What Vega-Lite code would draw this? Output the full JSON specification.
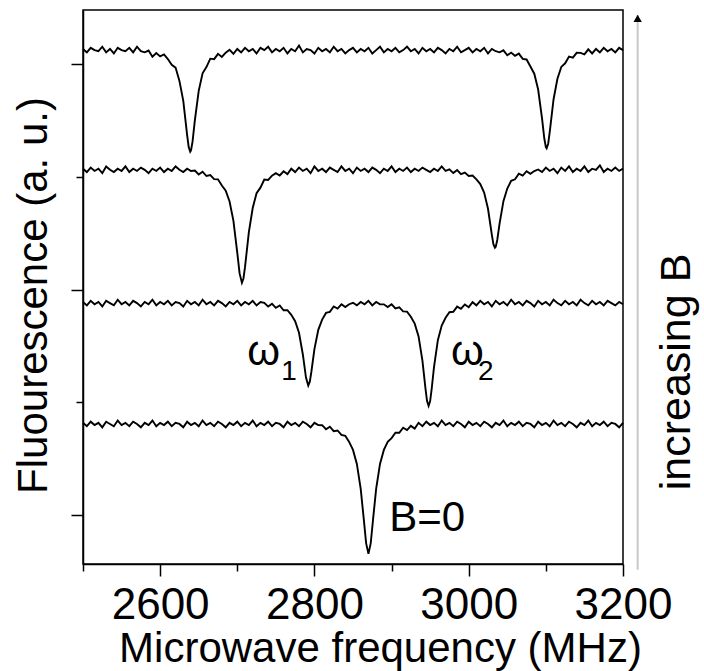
{
  "$schema": "https://vega.github.io/schema/vega-lite/v6.json",
  "width": 540,
  "height": 554,
  "autosize": {"type": "none"},
  "padding": {"left": 83, "top": 10, "right": 81, "bottom": 107},
  "background": "white",
  "config": {
    "font": "Liberation Sans",
    "view": {"stroke": "black", "strokeWidth": 1.5},
    "axis": {
      "grid": false,
      "domainColor": "black",
      "domainWidth": 1.5,
      "tickColor": "black",
      "tickWidth": 1.5,
      "labelColor": "black",
      "labelFont": "Liberation Sans",
      "titleFont": "Liberation Sans",
      "titleColor": "black",
      "titleFontWeight": "normal"
    }
  },
  "datasets": {
    "traces": [
      {"s":1,"f":2500,"v":413},{"s":1,"f":2505,"v":410},{"s":1,"f":2510,"v":414},{"s":1,"f":2515,"v":412},{"s":1,"f":2520,"v":411},{"s":1,"f":2525,"v":415},{"s":1,"f":2530,"v":410},{"s":1,"f":2535,"v":413},{"s":1,"f":2540,"v":409},{"s":1,"f":2545,"v":414},{"s":1,"f":2550,"v":412},{"s":1,"f":2555,"v":411},{"s":1,"f":2560,"v":414},{"s":1,"f":2565,"v":410},{"s":1,"f":2570,"v":415},{"s":1,"f":2575,"v":411},
      {"s":1,"f":2580,"v":410},{"s":1,"f":2585,"v":411.6},{"s":1,"f":2590,"v":406.1},{"s":1,"f":2595,"v":409.4},{"s":1,"f":2600,"v":406.4},{"s":1,"f":2605,"v":408.1},{"s":1,"f":2610,"v":404.1},{"s":1,"f":2615,"v":398.9},{"s":1,"f":2620,"v":396.5},{"s":1,"f":2625,"v":384.7},{"s":1,"f":2630,"v":367},{"s":1,"f":2635,"v":336.8},{"s":1,"f":2637,"v":326.2},{"s":1,"f":2639,"v":322},{"s":1,"f":2640,"v":323.1},{"s":1,"f":2642,"v":331},{"s":1,"f":2645,"v":349.7},{"s":1,"f":2650,"v":375.9},{"s":1,"f":2655,"v":391.4},{"s":1,"f":2660,"v":397},{"s":1,"f":2665,"v":404.4},{"s":1,"f":2670,"v":404},{"s":1,"f":2675,"v":408.7},{"s":1,"f":2680,"v":405.9},{"s":1,"f":2685,"v":409.7},{"s":1,"f":2690,"v":412.3},{"s":1,"f":2695,"v":408.7},
      {"s":1,"f":2700,"v":413},{"s":1,"f":2705,"v":410},{"s":1,"f":2710,"v":414},{"s":1,"f":2715,"v":411},{"s":1,"f":2720,"v":413},{"s":1,"f":2725,"v":409},{"s":1,"f":2730,"v":414},{"s":1,"f":2735,"v":412},{"s":1,"f":2740,"v":415},{"s":1,"f":2745,"v":410},{"s":1,"f":2750,"v":413},{"s":1,"f":2755,"v":411},{"s":1,"f":2760,"v":414},{"s":1,"f":2765,"v":409},{"s":1,"f":2770,"v":413},{"s":1,"f":2775,"v":411},{"s":1,"f":2780,"v":416},{"s":1,"f":2785,"v":410},{"s":1,"f":2790,"v":413},{"s":1,"f":2795,"v":412},{"s":1,"f":2800,"v":409},{"s":1,"f":2805,"v":414},{"s":1,"f":2810,"v":411},{"s":1,"f":2815,"v":413},{"s":1,"f":2820,"v":410},{"s":1,"f":2825,"v":415},{"s":1,"f":2830,"v":411},{"s":1,"f":2835,"v":413},{"s":1,"f":2840,"v":409},{"s":1,"f":2845,"v":412},{"s":1,"f":2850,"v":414},{"s":1,"f":2855,"v":410},{"s":1,"f":2860,"v":413},{"s":1,"f":2865,"v":411},{"s":1,"f":2870,"v":414},{"s":1,"f":2875,"v":409},{"s":1,"f":2880,"v":412},{"s":1,"f":2885,"v":415},{"s":1,"f":2890,"v":410},{"s":1,"f":2895,"v":413},{"s":1,"f":2900,"v":411},{"s":1,"f":2905,"v":414},{"s":1,"f":2910,"v":410},{"s":1,"f":2915,"v":412},{"s":1,"f":2920,"v":415},{"s":1,"f":2925,"v":411},{"s":1,"f":2930,"v":413},{"s":1,"f":2935,"v":409},{"s":1,"f":2940,"v":414},{"s":1,"f":2945,"v":411},{"s":1,"f":2950,"v":413},{"s":1,"f":2955,"v":410},{"s":1,"f":2960,"v":414},{"s":1,"f":2965,"v":412},{"s":1,"f":2970,"v":409},{"s":1,"f":2975,"v":413},{"s":1,"f":2980,"v":411},{"s":1,"f":2985,"v":415},{"s":1,"f":2990,"v":410},{"s":1,"f":2995,"v":412},{"s":1,"f":3000,"v":414},{"s":1,"f":3005,"v":410},{"s":1,"f":3010,"v":413},{"s":1,"f":3015,"v":411},{"s":1,"f":3020,"v":414},{"s":1,"f":3025,"v":409},{"s":1,"f":3030,"v":413},{"s":1,"f":3035,"v":411},{"s":1,"f":3040,"v":410},
      {"s":1,"f":3045,"v":411.8},{"s":1,"f":3050,"v":407.4},{"s":1,"f":3055,"v":409.8},{"s":1,"f":3060,"v":407},{"s":1,"f":3065,"v":408.9},{"s":1,"f":3070,"v":404.2},{"s":1,"f":3075,"v":403.7},{"s":1,"f":3080,"v":397.5},{"s":1,"f":3085,"v":391.1},{"s":1,"f":3090,"v":377.1},{"s":1,"f":3095,"v":351.8},{"s":1,"f":3098,"v":333.7},{"s":1,"f":3100,"v":326},{"s":1,"f":3101,"v":325},{"s":1,"f":3103,"v":329.1},{"s":1,"f":3105,"v":339.4},{"s":1,"f":3110,"v":368.5},{"s":1,"f":3115,"v":386.6},{"s":1,"f":3120,"v":397.1},{"s":1,"f":3125,"v":400.3},{"s":1,"f":3130,"v":406.3},{"s":1,"f":3135,"v":405.3},{"s":1,"f":3140,"v":409.6},{"s":1,"f":3145,"v":409.5},{"s":1,"f":3150,"v":408.2},{"s":1,"f":3155,"v":412.7},{"s":1,"f":3160,"v":409},
      {"s":1,"f":3165,"v":413},{"s":1,"f":3170,"v":410},{"s":1,"f":3175,"v":414},{"s":1,"f":3180,"v":411},{"s":1,"f":3185,"v":413},{"s":1,"f":3190,"v":410},{"s":1,"f":3195,"v":414},{"s":1,"f":3200,"v":412},

      {"s":2,"f":2500,"v":307},{"s":2,"f":2505,"v":304},{"s":2,"f":2510,"v":308},{"s":2,"f":2515,"v":305},{"s":2,"f":2520,"v":307},{"s":2,"f":2525,"v":303},{"s":2,"f":2530,"v":309},{"s":2,"f":2535,"v":306},{"s":2,"f":2540,"v":304},{"s":2,"f":2545,"v":307},{"s":2,"f":2550,"v":305},{"s":2,"f":2555,"v":309},{"s":2,"f":2560,"v":304},{"s":2,"f":2565,"v":307},{"s":2,"f":2570,"v":305},{"s":2,"f":2575,"v":308},{"s":2,"f":2580,"v":306},{"s":2,"f":2585,"v":303},{"s":2,"f":2590,"v":307},{"s":2,"f":2595,"v":305},{"s":2,"f":2600,"v":308},{"s":2,"f":2605,"v":304},{"s":2,"f":2610,"v":307},{"s":2,"f":2615,"v":305},{"s":2,"f":2620,"v":309},{"s":2,"f":2625,"v":306},{"s":2,"f":2630,"v":304},{"s":2,"f":2635,"v":307},{"s":2,"f":2640,"v":305},
      {"s":2,"f":2645,"v":305.4},{"s":2,"f":2650,"v":301.9},{"s":2,"f":2655,"v":304.3},{"s":2,"f":2660,"v":300.5},{"s":2,"f":2665,"v":301.4},{"s":2,"f":2670,"v":297.8},{"s":2,"f":2675,"v":297.6},{"s":2,"f":2680,"v":292.1},{"s":2,"f":2685,"v":287.5},{"s":2,"f":2690,"v":277.9},{"s":2,"f":2695,"v":260.8},{"s":2,"f":2700,"v":232.5},{"s":2,"f":2703,"v":214.3},{"s":2,"f":2706,"v":206},{"s":2,"f":2708,"v":209.8},{"s":2,"f":2710,"v":219.8},{"s":2,"f":2715,"v":250.8},{"s":2,"f":2720,"v":272.2},{"s":2,"f":2725,"v":285.3},{"s":2,"f":2730,"v":290.2},{"s":2,"f":2735,"v":297.4},{"s":2,"f":2740,"v":297},{"s":2,"f":2745,"v":300.8},{"s":2,"f":2750,"v":303.1},{"s":2,"f":2755,"v":301},{"s":2,"f":2760,"v":304.7},{"s":2,"f":2765,"v":302.2},
      {"s":2,"f":2770,"v":307},{"s":2,"f":2775,"v":304},{"s":2,"f":2780,"v":308},{"s":2,"f":2785,"v":305},{"s":2,"f":2790,"v":307},{"s":2,"f":2795,"v":303},{"s":2,"f":2800,"v":309},{"s":2,"f":2805,"v":305},{"s":2,"f":2810,"v":307},{"s":2,"f":2815,"v":304},{"s":2,"f":2820,"v":308},{"s":2,"f":2825,"v":306},{"s":2,"f":2830,"v":304},{"s":2,"f":2835,"v":309},{"s":2,"f":2840,"v":305},{"s":2,"f":2845,"v":307},{"s":2,"f":2850,"v":303},{"s":2,"f":2855,"v":308},{"s":2,"f":2860,"v":305},{"s":2,"f":2865,"v":307},{"s":2,"f":2870,"v":304},{"s":2,"f":2875,"v":308},{"s":2,"f":2880,"v":306},{"s":2,"f":2885,"v":303},{"s":2,"f":2890,"v":307},{"s":2,"f":2895,"v":305},{"s":2,"f":2900,"v":309},{"s":2,"f":2905,"v":304},{"s":2,"f":2910,"v":307},{"s":2,"f":2915,"v":305},{"s":2,"f":2920,"v":308},{"s":2,"f":2925,"v":304},{"s":2,"f":2930,"v":307},{"s":2,"f":2935,"v":305},{"s":2,"f":2940,"v":308},{"s":2,"f":2945,"v":306},{"s":2,"f":2950,"v":304},{"s":2,"f":2955,"v":307},{"s":2,"f":2960,"v":305},{"s":2,"f":2965,"v":309},{"s":2,"f":2970,"v":305},
      {"s":2,"f":2975,"v":306.4},{"s":2,"f":2980,"v":303.1},{"s":2,"f":2985,"v":305.8},{"s":2,"f":2990,"v":302.2},{"s":2,"f":2995,"v":303.5},{"s":2,"f":3000,"v":300.5},{"s":2,"f":3005,"v":300.9},{"s":2,"f":3010,"v":297.5},{"s":2,"f":3015,"v":293.4},{"s":2,"f":3020,"v":285.9},{"s":2,"f":3025,"v":271.5},{"s":2,"f":3030,"v":248.4},{"s":2,"f":3032,"v":240.2},{"s":2,"f":3034,"v":237},{"s":2,"f":3035,"v":237.8},{"s":2,"f":3037,"v":243.9},{"s":2,"f":3040,"v":258.3},{"s":2,"f":3045,"v":278.3},{"s":2,"f":3050,"v":289.4},{"s":2,"f":3055,"v":296.3},{"s":2,"f":3060,"v":297.6},{"s":2,"f":3065,"v":302.6},{"s":2,"f":3070,"v":300.9},{"s":2,"f":3075,"v":304.8},{"s":2,"f":3080,"v":302.4},{"s":2,"f":3085,"v":304.9},{"s":2,"f":3090,"v":306.3},
      {"s":2,"f":3095,"v":304},{"s":2,"f":3100,"v":308},{"s":2,"f":3105,"v":305},{"s":2,"f":3110,"v":307},{"s":2,"f":3115,"v":303},{"s":2,"f":3120,"v":308},{"s":2,"f":3125,"v":305},{"s":2,"f":3130,"v":309},{"s":2,"f":3135,"v":304},{"s":2,"f":3140,"v":307},{"s":2,"f":3145,"v":305},{"s":2,"f":3150,"v":309},{"s":2,"f":3155,"v":304},{"s":2,"f":3160,"v":307},{"s":2,"f":3165,"v":306},{"s":2,"f":3170,"v":310},{"s":2,"f":3175,"v":304},{"s":2,"f":3180,"v":307},{"s":2,"f":3185,"v":305},{"s":2,"f":3190,"v":308},{"s":2,"f":3195,"v":305},{"s":2,"f":3200,"v":307},

      {"s":3,"f":2500,"v":189},{"s":3,"f":2505,"v":186},{"s":3,"f":2510,"v":190},{"s":3,"f":2515,"v":187},{"s":3,"f":2520,"v":189},{"s":3,"f":2525,"v":185},{"s":3,"f":2530,"v":190},{"s":3,"f":2535,"v":188},{"s":3,"f":2540,"v":186},{"s":3,"f":2545,"v":191},{"s":3,"f":2550,"v":187},{"s":3,"f":2555,"v":189},{"s":3,"f":2560,"v":186},{"s":3,"f":2565,"v":190},{"s":3,"f":2570,"v":188},{"s":3,"f":2575,"v":185},{"s":3,"f":2580,"v":189},{"s":3,"f":2585,"v":187},{"s":3,"f":2590,"v":191},{"s":3,"f":2595,"v":186},{"s":3,"f":2600,"v":189},{"s":3,"f":2605,"v":187},{"s":3,"f":2610,"v":190},{"s":3,"f":2615,"v":186},{"s":3,"f":2620,"v":189},{"s":3,"f":2625,"v":188},{"s":3,"f":2630,"v":185},{"s":3,"f":2635,"v":190},{"s":3,"f":2640,"v":187},{"s":3,"f":2645,"v":189},{"s":3,"f":2650,"v":186},{"s":3,"f":2655,"v":191},{"s":3,"f":2660,"v":187},{"s":3,"f":2665,"v":189},{"s":3,"f":2670,"v":186},{"s":3,"f":2675,"v":190},{"s":3,"f":2680,"v":188},{"s":3,"f":2685,"v":185},{"s":3,"f":2690,"v":189},{"s":3,"f":2695,"v":187},{"s":3,"f":2700,"v":190},{"s":3,"f":2705,"v":186},{"s":3,"f":2710,"v":189},{"s":3,"f":2715,"v":187},{"s":3,"f":2720,"v":190},{"s":3,"f":2725,"v":186},{"s":3,"f":2730,"v":189},
      {"s":3,"f":2735,"v":188.2},{"s":3,"f":2740,"v":184.9},{"s":3,"f":2745,"v":187.4},{"s":3,"f":2750,"v":183.8},{"s":3,"f":2755,"v":185.9},{"s":3,"f":2760,"v":181.6},{"s":3,"f":2765,"v":181.7},{"s":3,"f":2770,"v":177.6},{"s":3,"f":2775,"v":172},{"s":3,"f":2780,"v":161.7},{"s":3,"f":2785,"v":142.5},{"s":3,"f":2789,"v":122.3},{"s":3,"f":2792,"v":115},{"s":3,"f":2794,"v":118.4},{"s":3,"f":2796,"v":127},{"s":3,"f":2800,"v":147.2},{"s":3,"f":2805,"v":164.3},{"s":3,"f":2810,"v":173.4},{"s":3,"f":2815,"v":179.3},{"s":3,"f":2820,"v":180.2},{"s":3,"f":2825,"v":185},{"s":3,"f":2830,"v":183.1},{"s":3,"f":2835,"v":186.9},{"s":3,"f":2840,"v":184.5},{"s":3,"f":2845,"v":187},{"s":3,"f":2850,"v":188.3},
      {"s":3,"f":2855,"v":186},{"s":3,"f":2860,"v":189},{"s":3,"f":2865,"v":187},{"s":3,"f":2870,"v":190},{"s":3,"f":2875,"v":186},{"s":3,"f":2880,"v":189},{"s":3,"f":2885,"v":187},
      {"s":3,"f":2890,"v":186.9},{"s":3,"f":2895,"v":184.5},{"s":3,"f":2900,"v":186.9},{"s":3,"f":2905,"v":183.2},{"s":3,"f":2910,"v":184.2},{"s":3,"f":2915,"v":180.7},{"s":3,"f":2920,"v":180.5},{"s":3,"f":2925,"v":175.9},{"s":3,"f":2930,"v":169.8},{"s":3,"f":2935,"v":158.5},{"s":3,"f":2940,"v":137.1},{"s":3,"f":2944,"v":112},{"s":3,"f":2946,"v":101.3},{"s":3,"f":2948,"v":97},{"s":3,"f":2950,"v":101.3},{"s":3,"f":2952,"v":112},{"s":3,"f":2955,"v":131.3},{"s":3,"f":2960,"v":155.2},{"s":3,"f":2965,"v":168.1},{"s":3,"f":2970,"v":175},{"s":3,"f":2975,"v":179.9},{"s":3,"f":2980,"v":180.3},{"s":3,"f":2985,"v":184.9},{"s":3,"f":2990,"v":183},{"s":3,"f":2995,"v":186.8},{"s":3,"f":3000,"v":184.4},{"s":3,"f":3005,"v":188.8},
      {"s":3,"f":3010,"v":186},{"s":3,"f":3015,"v":190},{"s":3,"f":3020,"v":187},{"s":3,"f":3025,"v":189},{"s":3,"f":3030,"v":185},{"s":3,"f":3035,"v":190},{"s":3,"f":3040,"v":187},{"s":3,"f":3045,"v":189},{"s":3,"f":3050,"v":186},{"s":3,"f":3055,"v":191},{"s":3,"f":3060,"v":187},{"s":3,"f":3065,"v":189},{"s":3,"f":3070,"v":186},{"s":3,"f":3075,"v":190},{"s":3,"f":3080,"v":188},{"s":3,"f":3085,"v":185},{"s":3,"f":3090,"v":190},{"s":3,"f":3095,"v":187},{"s":3,"f":3100,"v":189},{"s":3,"f":3105,"v":186},{"s":3,"f":3110,"v":191},{"s":3,"f":3115,"v":188},{"s":3,"f":3120,"v":186},{"s":3,"f":3125,"v":190},{"s":3,"f":3130,"v":187},{"s":3,"f":3135,"v":189},{"s":3,"f":3140,"v":186},{"s":3,"f":3145,"v":191},{"s":3,"f":3150,"v":188},{"s":3,"f":3155,"v":186},{"s":3,"f":3160,"v":190},{"s":3,"f":3165,"v":187},{"s":3,"f":3170,"v":189},{"s":3,"f":3175,"v":186},{"s":3,"f":3180,"v":190},{"s":3,"f":3185,"v":188},{"s":3,"f":3190,"v":186},{"s":3,"f":3195,"v":189},{"s":3,"f":3200,"v":187},

      {"s":4,"f":2500,"v":82},{"s":4,"f":2505,"v":79},{"s":4,"f":2510,"v":83},{"s":4,"f":2515,"v":80},{"s":4,"f":2520,"v":82},{"s":4,"f":2525,"v":78},{"s":4,"f":2530,"v":83},{"s":4,"f":2535,"v":81},{"s":4,"f":2540,"v":79},{"s":4,"f":2545,"v":84},{"s":4,"f":2550,"v":80},{"s":4,"f":2555,"v":82},{"s":4,"f":2560,"v":79},{"s":4,"f":2565,"v":83},{"s":4,"f":2570,"v":81},{"s":4,"f":2575,"v":78},{"s":4,"f":2580,"v":82},{"s":4,"f":2585,"v":80},{"s":4,"f":2590,"v":84},{"s":4,"f":2595,"v":79},{"s":4,"f":2600,"v":82},{"s":4,"f":2605,"v":80},{"s":4,"f":2610,"v":83},{"s":4,"f":2615,"v":79},{"s":4,"f":2620,"v":82},{"s":4,"f":2625,"v":81},{"s":4,"f":2630,"v":78},{"s":4,"f":2635,"v":83},{"s":4,"f":2640,"v":80},{"s":4,"f":2645,"v":82},{"s":4,"f":2650,"v":79},{"s":4,"f":2655,"v":84},{"s":4,"f":2660,"v":80},{"s":4,"f":2665,"v":82},{"s":4,"f":2670,"v":79},{"s":4,"f":2675,"v":83},{"s":4,"f":2680,"v":81},{"s":4,"f":2685,"v":78},{"s":4,"f":2690,"v":82},{"s":4,"f":2695,"v":80},{"s":4,"f":2700,"v":83},{"s":4,"f":2705,"v":79},{"s":4,"f":2710,"v":82},{"s":4,"f":2715,"v":80},{"s":4,"f":2720,"v":84},{"s":4,"f":2725,"v":79},{"s":4,"f":2730,"v":82},{"s":4,"f":2735,"v":80},{"s":4,"f":2740,"v":83},{"s":4,"f":2745,"v":79},{"s":4,"f":2750,"v":82},{"s":4,"f":2755,"v":81},{"s":4,"f":2760,"v":78},{"s":4,"f":2765,"v":83},{"s":4,"f":2770,"v":80},{"s":4,"f":2775,"v":82},{"s":4,"f":2780,"v":79},{"s":4,"f":2785,"v":83},{"s":4,"f":2790,"v":81},{"s":4,"f":2795,"v":78},{"s":4,"f":2800,"v":82},{"s":4,"f":2805,"v":80},
      {"s":4,"f":2810,"v":79.9},{"s":4,"f":2815,"v":76.3},{"s":4,"f":2820,"v":78.6},{"s":4,"f":2825,"v":74.6},{"s":4,"f":2830,"v":75.2},{"s":4,"f":2835,"v":71.3},{"s":4,"f":2840,"v":70.5},{"s":4,"f":2845,"v":65.1},{"s":4,"f":2850,"v":58},{"s":4,"f":2855,"v":45.6},{"s":4,"f":2860,"v":23.5},{"s":4,"f":2864,"v":-3.5},{"s":4,"f":2867,"v":-24.5},{"s":4,"f":2870,"v":-34},{"s":4,"f":2873,"v":-24.5},{"s":4,"f":2876,"v":-3.5},{"s":4,"f":2880,"v":23.5},{"s":4,"f":2885,"v":45.6},{"s":4,"f":2890,"v":58},{"s":4,"f":2895,"v":65.1},{"s":4,"f":2900,"v":68.5},{"s":4,"f":2905,"v":73.3},{"s":4,"f":2910,"v":73.2},{"s":4,"f":2915,"v":77.6},{"s":4,"f":2920,"v":75.6},{"s":4,"f":2925,"v":79.3},{"s":4,"f":2930,"v":76.9},
      {"s":4,"f":2935,"v":82},{"s":4,"f":2940,"v":79},{"s":4,"f":2945,"v":83},{"s":4,"f":2950,"v":80},{"s":4,"f":2955,"v":82},{"s":4,"f":2960,"v":79},{"s":4,"f":2965,"v":84},{"s":4,"f":2970,"v":80},{"s":4,"f":2975,"v":82},{"s":4,"f":2980,"v":79},{"s":4,"f":2985,"v":83},{"s":4,"f":2990,"v":81},{"s":4,"f":2995,"v":78},{"s":4,"f":3000,"v":83},{"s":4,"f":3005,"v":80},{"s":4,"f":3010,"v":82},{"s":4,"f":3015,"v":79},{"s":4,"f":3020,"v":83},{"s":4,"f":3025,"v":81},{"s":4,"f":3030,"v":78},{"s":4,"f":3035,"v":82},{"s":4,"f":3040,"v":80},{"s":4,"f":3045,"v":84},{"s":4,"f":3050,"v":79},{"s":4,"f":3055,"v":82},{"s":4,"f":3060,"v":80},{"s":4,"f":3065,"v":83},{"s":4,"f":3070,"v":79},{"s":4,"f":3075,"v":82},{"s":4,"f":3080,"v":81},{"s":4,"f":3085,"v":78},{"s":4,"f":3090,"v":83},{"s":4,"f":3095,"v":80},{"s":4,"f":3100,"v":82},{"s":4,"f":3105,"v":79},{"s":4,"f":3110,"v":84},{"s":4,"f":3115,"v":80},{"s":4,"f":3120,"v":82},{"s":4,"f":3125,"v":79},{"s":4,"f":3130,"v":83},{"s":4,"f":3135,"v":81},{"s":4,"f":3140,"v":78},{"s":4,"f":3145,"v":82},{"s":4,"f":3150,"v":80},{"s":4,"f":3155,"v":84},{"s":4,"f":3160,"v":79},{"s":4,"f":3165,"v":82},{"s":4,"f":3170,"v":80},{"s":4,"f":3175,"v":83},{"s":4,"f":3180,"v":79},{"s":4,"f":3185,"v":82},{"s":4,"f":3190,"v":81},{"s":4,"f":3195,"v":78},{"s":4,"f":3200,"v":82}
    ],
    "labels": [
      {"label": "ω", "f": 2713, "v": 133},
      {"label": "ω", "f": 2977, "v": 133},
      {"label": "B=0", "f": 2897, "v": -14}
    ],
    "subscripts": [
      {"label": "1", "f": 2757, "v": 120},
      {"label": "2", "f": 3012, "v": 120}
    ],
    "arrow": [
      {"f": 3219, "bottom": -48, "top": 443, "head": 440}
    ],
    "sidenote": [
      {"label": "increasing B", "f": 3287, "v": 127}
    ]
  },
  "resolve": {"axis": {"x": "independent", "y": "independent"}},
  "layer": [
    {
      "data": {"name": "traces"},
      "mark": {"type": "line", "color": "black", "strokeWidth": 1.9},
      "encoding": {
        "x": {
          "field": "f", "type": "quantitative",
          "scale": {"domain": [2500, 3200], "nice": false, "zero": false},
          "axis": {
            "values": [2600, 2800, 3000, 3200],
            "format": "d",
            "tickSize": 12,
            "labelFontSize": 44,
            "labelPadding": 7,
            "labelFlush": false,
            "labelOverlap": false,
            "title": "Microwave frequency (MHz)",
            "titleFontSize": 42,
            "titlePadding": 1,
            "titleX": 297,
            "titleAlign": "center"
          }
        },
        "y": {
          "field": "v", "type": "quantitative",
          "scale": {"domain": [-43, 447.5], "nice": false, "zero": false},
          "axis": {
            "values": [0, 200, 400],
            "tickSize": 12,
            "labels": false,
            "title": "Fluourescence (a. u.)",
            "titleFontSize": 42,
            "titlePadding": 15,
            "titleY": 285
          }
        },
        "detail": {"field": "s", "type": "nominal"}
      }
    },
    {
      "data": {"name": "labels"},
      "mark": {"type": "text", "fontSize": 42, "align": "left", "baseline": "alphabetic", "color": "black"},
      "encoding": {
        "x": {
          "field": "f", "type": "quantitative",
          "scale": {"domain": [2500, 3200], "nice": false, "zero": false},
          "axis": {"orient": "bottom", "values": [2500, 2700, 2900, 3100], "tickSize": 7, "labels": false, "domain": false, "title": null}
        },
        "y": {
          "field": "v", "type": "quantitative",
          "scale": {"domain": [-43, 447.5], "nice": false, "zero": false},
          "axis": {"orient": "left", "values": [100, 300], "tickSize": 7, "labels": false, "domain": false, "title": null}
        },
        "text": {"field": "label"}
      }
    },
    {
      "data": {"name": "subscripts"},
      "mark": {"type": "text", "fontSize": 28, "align": "left", "baseline": "alphabetic", "color": "black"},
      "encoding": {
        "x": {"field": "f", "type": "quantitative", "axis": null},
        "y": {"field": "v", "type": "quantitative", "axis": null},
        "text": {"field": "label"}
      }
    },
    {
      "data": {"name": "arrow"},
      "mark": {"type": "rule", "color": "#c8c8c8", "strokeWidth": 2},
      "encoding": {
        "x": {"field": "f", "type": "quantitative", "axis": null},
        "y": {"field": "bottom", "type": "quantitative", "axis": null},
        "y2": {"field": "top"}
      }
    },
    {
      "data": {"name": "arrow"},
      "mark": {"type": "point", "shape": "triangle-up", "filled": true, "color": "black", "size": 70, "opacity": 1},
      "encoding": {
        "x": {"field": "f", "type": "quantitative", "axis": null},
        "y": {"field": "head", "type": "quantitative", "axis": null}
      }
    },
    {
      "data": {"name": "sidenote"},
      "mark": {"type": "text", "fontSize": 43, "angle": 270, "align": "center", "baseline": "alphabetic", "color": "black"},
      "encoding": {
        "x": {"field": "f", "type": "quantitative", "axis": null},
        "y": {"field": "v", "type": "quantitative", "axis": null},
        "text": {"field": "label"}
      }
    }
  ]
}
